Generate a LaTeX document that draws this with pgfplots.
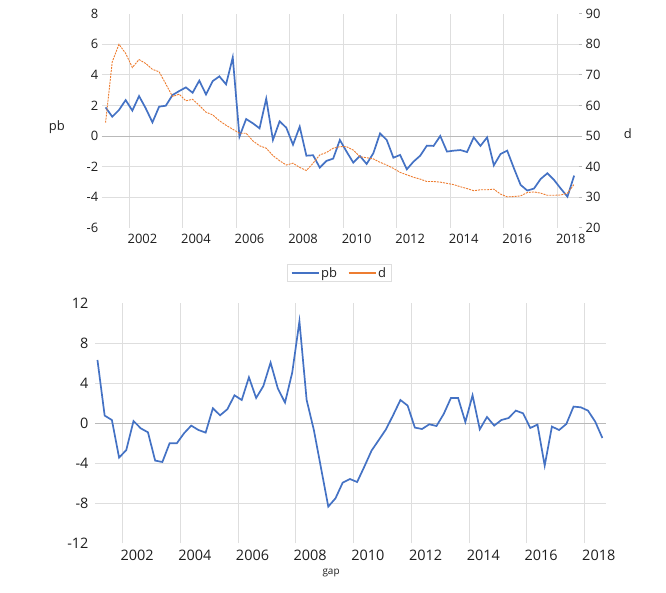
\documentclass[border=0pt]{standalone}
\usepackage{fontspec}
\setmainfont{Open Sans}
\usepackage{pgfplots}
\usepackage{pgfplotstable}
\pgfplotsset{compat=1.18}
\definecolor{pbblue}{RGB}{68,114,196}
\definecolor{dorange}{RGB}{237,125,49}
\definecolor{gridgray}{RGB}{222,222,222}
\definecolor{zerogray}{RGB}{185,185,185}
\definecolor{txt}{RGB}{30,30,30}

\pgfplotstableread{
x pb d gap
2001.125 1.87 54.4 6.33
2001.375 1.26 74.3 0.77
2001.625 1.70 80.0 0.33
2001.875 2.35 77.0 -3.43
2002.125 1.66 72.4 -2.67
2002.375 2.61 75.0 0.23
2002.625 1.81 73.7 -0.50
2002.875 0.89 71.8 -0.90
2003.125 1.92 71.0 -3.73
2003.375 1.98 67.0 -3.87
2003.625 2.68 62.9 -2.00
2003.875 2.94 63.7 -2.00
2004.125 3.18 61.5 -1.00
2004.375 2.83 62.0 -0.23
2004.625 3.62 60.0 -0.67
2004.875 2.72 57.8 -0.93
2005.125 3.59 56.9 1.50
2005.375 3.90 55.0 0.80
2005.625 3.38 53.5 1.40
2005.875 5.14 52.2 2.80
2006.125 -0.04 50.9 2.33
2006.375 1.11 50.9 4.60
2006.625 0.83 48.4 2.53
2006.875 0.50 46.8 3.73
2007.125 2.44 46.0 6.07
2007.375 -0.26 43.6 3.50
2007.625 0.96 41.9 2.07
2007.875 0.54 40.5 5.07
2008.125 -0.57 41.1 10.20
2008.375 0.61 39.7 2.33
2008.625 -1.29 38.7 -0.67
2008.875 -1.26 41.1 -4.50
2009.125 -2.07 43.8 -8.33
2009.375 -1.63 44.6 -7.50
2009.625 -1.48 46.0 -5.93
2009.875 -0.26 46.5 -5.57
2010.125 -1.02 46.5 -5.87
2010.375 -1.74 45.4 -4.33
2010.625 -1.31 43.2 -2.73
2010.875 -1.83 42.9 -1.67
2011.125 -1.13 42.5 -0.60
2011.375 0.17 41.4 0.83
2011.625 -0.26 40.5 2.33
2011.875 -1.42 39.4 1.77
2012.125 -1.24 38.1 -0.43
2012.375 -2.18 37.3 -0.57
2012.625 -1.68 36.5 -0.10
2012.875 -1.29 35.9 -0.27
2013.125 -0.63 35.1 0.93
2013.375 -0.65 35.1 2.53
2013.625 0.00 34.9 2.53
2013.875 -1.02 34.5 0.13
2014.125 -0.96 34.1 2.80
2014.375 -0.92 33.4 -0.60
2014.625 -1.05 32.8 0.63
2014.875 -0.09 32.1 -0.23
2015.125 -0.65 32.4 0.33
2015.375 -0.09 32.4 0.53
2015.625 -1.92 32.6 1.27
2015.875 -1.18 31.0 1.00
2016.125 -0.96 30.1 -0.47
2016.375 -2.11 30.2 -0.13
2016.625 -3.20 30.4 -4.23
2016.875 -3.57 31.5 -0.33
2017.125 -3.44 31.7 -0.67
2017.375 -2.81 31.3 -0.07
2017.625 -2.44 30.6 1.67
2017.875 -2.88 30.6 1.60
2018.125 -3.44 30.7 1.27
2018.375 -3.97 31.3 0.17
2018.625 -2.59 34.2 -1.47
}\data

\pgfplotsset{
  excelbase/.style={
    scale only axis,
    axis line style={draw=none},
    tick style={draw=none},
    xmajorgrids=true,
    ymajorgrids=false,
    grid style={gridgray, line width=0.8bp},
    /pgf/number format/assume math mode=true,
    /pgf/number format/1000 sep={},
    clip=false,
  },
}

\begin{document}
\begin{tikzpicture}
\useasboundingbox (0bp,0bp) rectangle (666bp,-593bp);

% ---------- top chart: pb (left axis) ----------
\begin{axis}[
  excelbase,
  at={(101.7bp,-13.7bp)}, anchor=north west,
  width=477bp, height=214bp,
  xmin=2000.98, xmax=2018.795,
  ymin=-6, ymax=8,
  xtick={2002,2004,...,2018},
  ytick={-6,-4,...,8},
  extra y ticks={-4,-2,2,4,6},
  extra y tick labels={},
  extra y tick style={ymajorgrids=true},
  tick label style={font=\fontsize{13}{15}\selectfont, text=txt},
  xticklabel style={anchor=center, xshift=13.4bp, yshift=-11.3bp},
  ylabel={pb},
  ylabel style={at={(axis description cs:-0.094,0.47)}, rotate=-90, anchor=center, font=\fontsize{13}{15}\selectfont, text=txt},
]
\addplot[zerogray, line width=0.9bp, forget plot] coordinates {(2000.98,0) (2018.795,0)};
\addplot[pbblue, line width=1.7bp] table[x=x, y=pb] {\data};
\end{axis}

% ---------- top chart: d (right axis) ----------
\begin{axis}[
  scale only axis,
  at={(101.7bp,-13.7bp)}, anchor=north west,
  width=477bp, height=214bp,
  xmin=2000.98, xmax=2018.795,
  ymin=20, ymax=90,
  ytick={20,30,...,90},
  axis x line=none,
  axis y line*=right,
  y axis line style={draw=none},
  tick align=outside,
  major tick length=3.5bp,
  ytick style={draw=zerogray, line width=0.8bp},
  /pgf/number format/assume math mode=true,
  tick label style={font=\fontsize{13}{15}\selectfont, text=txt},
  ylabel={d},
  ylabel style={at={(axis description cs:1.103,0.441)}, rotate=-90, anchor=center, font=\fontsize{13}{15}\selectfont, text=txt},
  clip=false,
  legend style={at={(axis description cs:0.4985,-0.2117)}, anchor=center,
    legend columns=2, draw=gridgray, line width=0.8bp,
    font=\fontsize{13}{15}\selectfont, text=txt, inner xsep=3bp, inner ysep=1bp,
    /tikz/every even column/.append style={column sep=9bp}},
  legend image code/.code={\draw[#1] (0bp,0bp) -- (27bp,0bp);},
]
\addlegendimage{draw=pbblue, line width=1.3bp}
\addlegendentry{pb}
\addlegendimage{draw=dorange, line width=1.2bp}
\addlegendentry{d}
\addplot[dorange, line width=0.9bp, dash pattern=on 2bp off 1bp, forget plot] table[x=x, y=d] {\data};
\end{axis}

% ---------- bottom chart: gap ----------
\begin{axis}[
  excelbase,
  at={(95bp,-303.3bp)}, anchor=north west,
  width=511bp, height=240bp,
  xmin=2001.04, xmax=2018.75,
  ymin=-12, ymax=12,
  xtick={2002,2004,...,2018},
  ytick={-12,-8,...,12},
  extra y ticks={-8,-4,4,8},
  extra y tick labels={},
  extra y tick style={ymajorgrids=true},
  tick label style={font=\fontsize{14.5}{17}\selectfont, text=txt},
  xticklabel style={anchor=center, xshift=14.4bp, yshift=-12bp},
  yticklabel style={xshift=-3bp},
  xlabel={gap},
  xlabel style={at={(axis description cs:0.462,-0.1225)}, anchor=center, font=\fontsize{10}{12}\selectfont, text=txt},
]
\addplot[zerogray, line width=0.9bp, forget plot] coordinates {(2001.04,0) (2018.75,0)};
\addplot[pbblue, line width=1.7bp] table[x=x, y=gap] {\data};
\end{axis}
\end{tikzpicture}
\end{document}
